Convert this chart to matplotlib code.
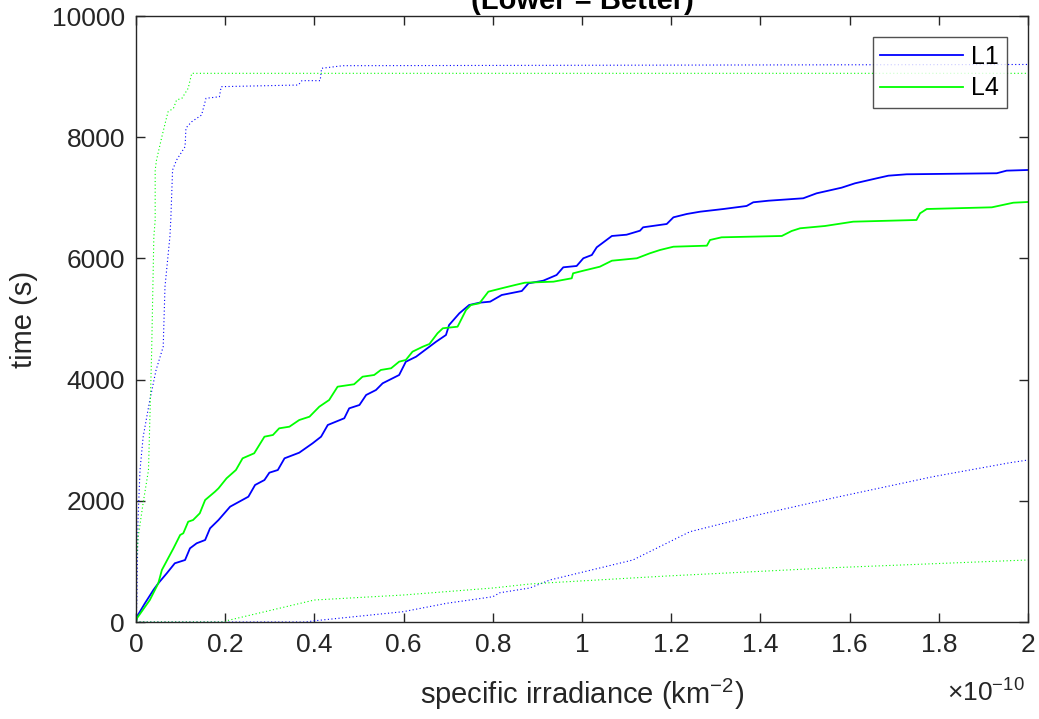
import numpy as np
import matplotlib
matplotlib.use("Agg")
import matplotlib.pyplot as plt

plt.rcParams['font.family'] = ['Liberation Sans', 'DejaVu Sans']
plt.rcParams['mathtext.default'] = 'regular'

# x values in units of 1e-10 km^-2, y values in seconds
l1_x = [0, 0.002, 0.020, 0.039, 0.050, 0.069, 0.087, 0.110, 0.121, 0.136, 0.155, 0.166,
        0.185, 0.211, 0.252, 0.267, 0.288, 0.299, 0.318, 0.333, 0.366, 0.396, 0.415, 0.430,
        0.467, 0.478, 0.501, 0.516, 0.538, 0.553, 0.590, 0.605, 0.628, 0.643, 0.673, 0.695,
        0.702, 0.725, 0.747, 0.770, 0.794, 0.820, 0.865, 0.880, 0.913, 0.943, 0.958, 0.988,
        1.003, 1.022, 1.033, 1.055, 1.067, 1.100, 1.130, 1.137, 1.190, 1.205, 1.235, 1.265,
        1.317, 1.369, 1.384, 1.418, 1.496, 1.526, 1.552, 1.582, 1.612, 1.638, 1.661, 1.687,
        1.728, 1.930, 1.952, 2.0]
l1_y = [0, 87, 309, 528, 639, 804, 969, 1023, 1216, 1299, 1353, 1546,
        1683, 1903, 2068, 2261, 2343, 2464, 2508, 2701, 2794, 2949, 3058, 3251,
        3362, 3526, 3581, 3746, 3828, 3939, 4076, 4295, 4378, 4461, 4626, 4736,
        4901, 5094, 5231, 5269, 5286, 5396, 5462, 5589, 5632, 5726, 5853, 5875,
        6002, 6056, 6183, 6304, 6370, 6391, 6457, 6513, 6568, 6678, 6733, 6771,
        6815, 6865, 6926, 6952, 6992, 7074, 7117, 7167, 7239, 7283, 7322, 7365,
        7388, 7405, 7448, 7459]

l4_x = [0, 0.002, 0.031, 0.050, 0.058, 0.072, 0.084, 0.099, 0.106, 0.117, 0.128, 0.143,
        0.155, 0.177, 0.185, 0.203, 0.224, 0.239, 0.265, 0.288, 0.307, 0.321, 0.344, 0.366,
        0.389, 0.411, 0.433, 0.452, 0.489, 0.508, 0.534, 0.549, 0.572, 0.590, 0.605, 0.620,
        0.643, 0.658, 0.676, 0.688, 0.721, 0.740, 0.751, 0.770, 0.790, 0.820, 0.850, 0.872,
        0.936, 0.977, 0.980, 1.003, 1.040, 1.067, 1.123, 1.152, 1.175, 1.205, 1.280, 1.287,
        1.313, 1.448, 1.470, 1.489, 1.545, 1.608, 1.750, 1.758, 1.773, 1.919, 1.967, 2.0]
l4_y = [0, 61, 363, 639, 858, 1051, 1216, 1436, 1464, 1655, 1683, 1794,
        2013, 2150, 2206, 2371, 2508, 2701, 2784, 3058, 3086, 3196, 3223, 3333,
        3388, 3553, 3663, 3883, 3923, 4048, 4076, 4159, 4187, 4296, 4324, 4461,
        4543, 4588, 4764, 4847, 4873, 5149, 5231, 5259, 5451, 5507, 5561, 5599,
        5616, 5672, 5754, 5797, 5863, 5962, 6002, 6084, 6139, 6193, 6210, 6304,
        6348, 6370, 6452, 6497, 6535, 6606, 6634, 6744, 6815, 6843, 6919, 6931]

l1_hi_x = [0, 0.002, 0.0045, 0.009, 0.016, 0.031, 0.045, 0.061, 0.065, 0.076, 0.078, 0.082,
           0.091, 0.110, 0.112, 0.125, 0.147, 0.157, 0.187, 0.191, 0.364, 0.372, 0.413, 0.416,
           0.464, 2.0]
l1_hi_y = [0, 363, 1683, 2508, 3053, 3663, 4158, 4543, 5533, 6358, 6634, 7459,
           7624, 7843, 8152, 8256, 8366, 8642, 8668, 8834, 8861, 8933, 8933, 9137,
           9180, 9200]

l4_hi_x = [0, 0.001, 0.005, 0.016, 0.028, 0.031, 0.035, 0.040, 0.043, 0.043, 0.046, 0.058,
           0.069, 0.072, 0.084, 0.091, 0.103, 0.117, 0.125, 2.0]
l4_hi_y = [0, 1023, 1408, 1964, 2508, 3333, 4434, 6358, 6634, 7459, 7624, 8008,
           8338, 8421, 8477, 8614, 8642, 8807, 9054, 9054]

l1_lo_x = [0, 0.38, 0.401, 0.599, 0.697, 0.800, 0.816, 0.883, 0.928, 1.114, 1.242, 1.377,
           1.563, 1.787, 1.960, 2.0]
l1_lo_y = [0, 0, 21, 170, 309, 417, 483, 561, 693, 1023, 1490, 1738,
           2046, 2398, 2629, 2673]

l4_lo_x = [0, 0.2, 0.203, 0.4, 0.599, 0.800, 0.883, 0.928, 1.19, 1.563, 1.96, 2.0]
l4_lo_y = [0, 0, 21, 363, 445, 561, 627, 648, 759, 896, 1012, 1023]

x_ticks = [0, 0.2, 0.4, 0.6, 0.8, 1, 1.2, 1.4, 1.6, 1.8, 2]
x_tick_labels = ['0', '0.2', '0.4', '0.6', '0.8', '1', '1.2', '1.4', '1.6', '1.8', '2']
y_ticks = [0, 2000, 4000, 6000, 8000, 10000]

scale = 1e-10
blue = (0, 0, 1)
green = (0, 1, 0)
gray = (0.15, 0.15, 0.15)
dots = (0, (1, 2.2))

fig = plt.figure(figsize=(10.39, 7.19), dpi=100)
ax = fig.add_axes([136 / 1039, 97 / 719, 892 / 1039, 606 / 719])

ax.plot(np.array(l1_x) * scale, l1_y, color=blue, lw=1.3, label='L1')
ax.plot(np.array(l4_x) * scale, l4_y, color=green, lw=1.3, label='L4')
ax.plot(np.array(l1_hi_x) * scale, l1_hi_y, color=blue, lw=0.8, ls=dots)
ax.plot(np.array(l4_hi_x) * scale, l4_hi_y, color=green, lw=0.8, ls=dots)
ax.plot(np.array(l1_lo_x) * scale, l1_lo_y, color=blue, lw=0.8, ls=dots)
ax.plot(np.array(l4_lo_x) * scale, l4_lo_y, color=green, lw=0.8, ls=dots)

ax.set_xlim(0, 2e-10)
ax.set_ylim(0, 10000)
ax.set_xticks([t * scale for t in x_ticks])
ax.set_xticklabels(x_tick_labels)
ax.set_yticks(y_ticks)
ax.set_yticklabels([str(v) for v in y_ticks])

for s in ax.spines.values():
    s.set_color(gray)
    s.set_linewidth(1.0)
ax.tick_params(direction='in', length=6.5, width=1.0, color=gray, labelcolor=gray,
               labelsize=19, top=True, right=True, pad=8)

ax.set_xlabel('specific irradiance (km$^{-2}$)', fontsize=21, color=gray, labelpad=14)
ax.set_ylabel('time (s)', fontsize=21, color=gray, labelpad=10)
fig.text(1025 / 1039, 1 - 702 / 719, r'$\times10^{-10}$', fontsize=19, color=gray,
         ha='right', va='baseline')

fig.text(582 / 1039, 1 - 9 / 719, '(Lower = Better)', fontsize=21, fontweight='bold',
         ha='center', va='baseline')

leg = ax.legend(loc='upper right', fontsize=18, frameon=True, fancybox=False,
                handlelength=3.3, handletextpad=0.35, borderpad=0.3,
                labelspacing=0.3, borderaxespad=0.85)
leg.get_frame().set_edgecolor(gray)
leg.get_frame().set_linewidth(1.0)
for t in leg.get_texts():
    t.set_color('black')

fig.savefig('out.png', dpi=100)
